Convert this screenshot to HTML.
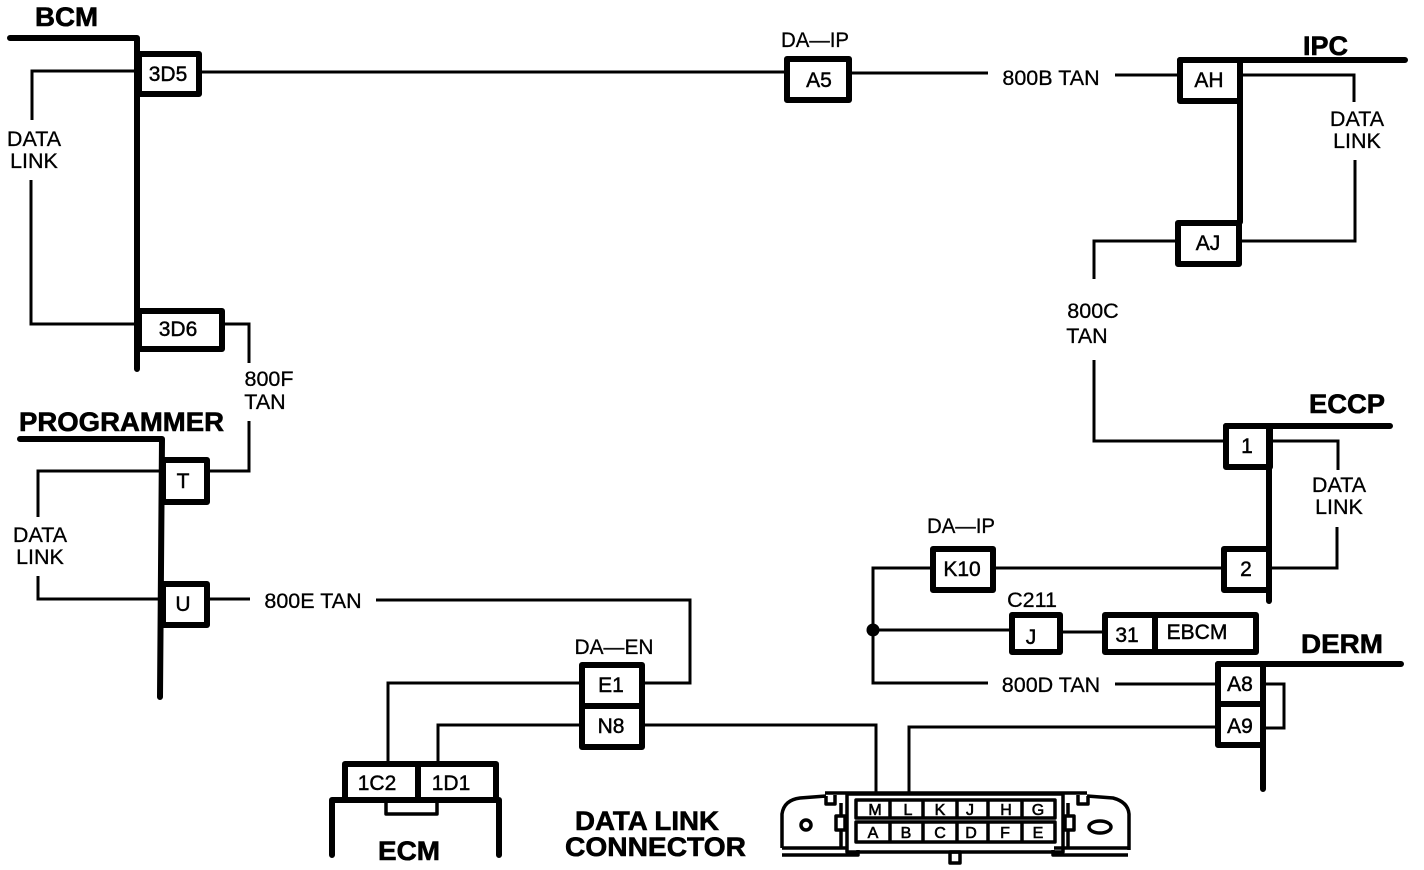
<!DOCTYPE html>
<html><head><meta charset="utf-8"><style>
html,body{margin:0;padding:0;background:#fff}
svg{display:block}
text{font-family:"Liberation Sans",sans-serif;fill:#000}
.t{font-size:21.5px;text-anchor:middle;stroke:#000;stroke-width:.3px}
.b{font-size:21px;text-anchor:middle;stroke:#000;stroke-width:.45px}
.h{font-size:27px;font-weight:bold;stroke:#000;stroke-width:.6px}
.c{font-size:16px;text-anchor:middle;stroke:#000;stroke-width:.6px}
.w{fill:none;stroke:#000;stroke-width:3;stroke-linejoin:miter}
.k{fill:none;stroke:#000;stroke-width:6;stroke-linejoin:round;stroke-linecap:round}
.x{fill:none;stroke:#000;stroke-width:3.5;stroke-linejoin:round}
</style></head><body>
<svg width="1424" height="870" viewBox="0 0 1424 870" xmlns="http://www.w3.org/2000/svg">
<rect width="1424" height="870" fill="#fff"/>
<!-- thin wires -->
<g class="w">
<path d="M139 71H32V120M31 180V324H139"/>
<path d="M199 72H785M850 73H988M1115 75H1178"/>
<path d="M1240 75H1354V102M1355 160V241H1238"/>
<path d="M1178 241H1094V279M1094 360V441H1226"/>
<path d="M1270 441H1338V470M1337 527V568H1268"/>
<path d="M994 568H1224M933 568H873V683H988M1115 684H1218M873 630H1012M1060 632H1105"/>
<path d="M1263 684H1284V728H1263"/>
<path d="M222 324H249V363M249 421V471H205"/>
<path d="M162 471H38V517M38 576V599H162M205 599H250M376 600H690V683H642"/>
<path d="M582 683H388V763M582 725H438V763"/>
<path d="M642 725H876V794M909 794V727H1218"/>
</g>
<circle cx="873" cy="630" r="6.5" fill="#000"/>
<!-- buses -->
<g class="k">
<path d="M10 38H137V369"/>
<path d="M20 439H162L160 697"/>
<path d="M1180 60H1405M1240 60V222"/>
<path d="M1226 426H1390M1269 426V601"/>
<path d="M1218 664H1401M1263 664V789"/>
<path d="M332 800H499M332 800V855M499 800V855"/>
</g>
<path d="M386 802V814H437V802" class="x"/>
<!-- connector boxes -->
<g class="k">
<rect x="139" y="54" width="60" height="40"/>
<rect x="139" y="311" width="83" height="38"/>
<rect x="163" y="460" width="44" height="42"/>
<rect x="163" y="584" width="44" height="41"/>
<rect x="787" y="59" width="62" height="41"/>
<rect x="1180" y="60" width="60" height="41"/>
<rect x="1178" y="223" width="61" height="41"/>
<rect x="1226" y="426" width="44" height="41"/>
<rect x="1224" y="549" width="45" height="41"/>
<rect x="933" y="549" width="60" height="41"/>
<rect x="1012" y="615" width="48" height="37"/>
<rect x="1105" y="615" width="151" height="37"/>
<path d="M1155 615V652"/>
<rect x="1218" y="664" width="45" height="81"/>
<path d="M1218 704H1263"/>
<rect x="582" y="665" width="60" height="82"/>
<path d="M582 706H642"/>
<rect x="345" y="764" width="151" height="36"/>
<path d="M418 764V800"/>
</g>
<!-- Data link connector -->
<g class="x">
<path d="M782 848V814Q784 800 800 798L826 796M826 796V804H835V795M825 793H1087M1088 796V804H1078V795M1087 796L1113 798Q1128 802 1129 814V850"/>
<rect x="847" y="794" width="216" height="58" fill="#fff"/>
<path d="M841 803V848M1068 803V848"/>
<rect x="836" y="816" width="9" height="14" fill="#fff"/>
<rect x="1065" y="816" width="9" height="14" fill="#fff"/>
<path d="M782 848H848M782 855H858V850M1128 848H1054M1128 855H1053V850" />
<rect x="950" y="852" width="10" height="11"/>
<circle cx="806" cy="825" r="5"/>
<ellipse cx="1100" cy="827" rx="11" ry="6"/>
<rect x="856" y="800" width="199" height="18"/>
<rect x="856" y="822" width="199" height="20"/>
<path d="M890 800V818M923 800V818M957 800V818M988 800V818M1022 800V818M890 822V842M923 822V842M957 822V842M988 822V842M1022 822V842"/>
</g>
<g class="c">
<text x="875" y="815">M</text><text x="908" y="815">L</text><text x="940" y="815">K</text><text x="970" y="815">J</text><text x="1006" y="815">H</text><text x="1038" y="815">G</text>
<text x="873" y="838">A</text><text x="906" y="838">B</text><text x="940" y="838">C</text><text x="971" y="838">D</text><text x="1005" y="838">F</text><text x="1038" y="838">E</text>
</g>
<!-- header labels -->
<text class="h" x="35" y="26" textLength="63" lengthAdjust="spacingAndGlyphs">BCM</text>
<text class="h" x="19" y="431" textLength="205" lengthAdjust="spacingAndGlyphs">PROGRAMMER</text>
<text class="h" x="1303" y="55" textLength="45" lengthAdjust="spacingAndGlyphs">IPC</text>
<text class="h" x="1309" y="413" textLength="76" lengthAdjust="spacingAndGlyphs">ECCP</text>
<text class="h" x="1301" y="653" textLength="82" lengthAdjust="spacingAndGlyphs">DERM</text>
<text class="h" x="378" y="860" textLength="62" lengthAdjust="spacingAndGlyphs">ECM</text>
<text class="h" x="575" y="830" textLength="144" lengthAdjust="spacingAndGlyphs">DATA LINK</text>
<text class="h" x="565" y="856" textLength="181" lengthAdjust="spacingAndGlyphs">CONNECTOR</text>
<!-- box labels -->
<g class="b">
<text x="168" y="81">3D5</text><text x="178" y="336">3D6</text><text x="183" y="488">T</text><text x="183" y="611">U</text>
<text x="819" y="87">A5</text><text x="1209" y="87">AH</text><text x="1208" y="250">AJ</text><text x="1247" y="453">1</text><text x="1246" y="576">2</text>
<text x="962" y="576">K10</text><text x="1031" y="644">J</text><text x="1127" y="642">31</text><text x="1197" y="639">EBCM</text>
<text x="1240" y="691">A8</text><text x="1240" y="733">A9</text><text x="611" y="692">E1</text><text x="611" y="733">N8</text>
<text x="377" y="790">1C2</text><text x="451" y="790">1D1</text>
</g>
<!-- wire labels -->
<g class="t">
<text x="34" y="146">DATA</text><text x="34" y="168">LINK</text>
<text x="1357" y="126">DATA</text><text x="1357" y="148">LINK</text>
<text x="1339" y="492">DATA</text><text x="1339" y="514">LINK</text>
<text x="40" y="542">DATA</text><text x="40" y="564">LINK</text>
<text x="269" y="386">800F</text><text x="265" y="409">TAN</text>
<text x="1093" y="318">800C</text><text x="1087" y="343">TAN</text>
<text x="1051" y="85">800B TAN</text>
<text x="1051" y="692">800D TAN</text>
<text x="313" y="608">800E TAN</text>
<text x="815" y="47" textLength="68" lengthAdjust="spacingAndGlyphs">DA—IP</text>
<text x="961" y="533" textLength="68" lengthAdjust="spacingAndGlyphs">DA—IP</text>
<text x="614" y="654" textLength="79" lengthAdjust="spacingAndGlyphs">DA—EN</text>
<text x="1032" y="607">C211</text>
</g>
</svg>
</body></html>
